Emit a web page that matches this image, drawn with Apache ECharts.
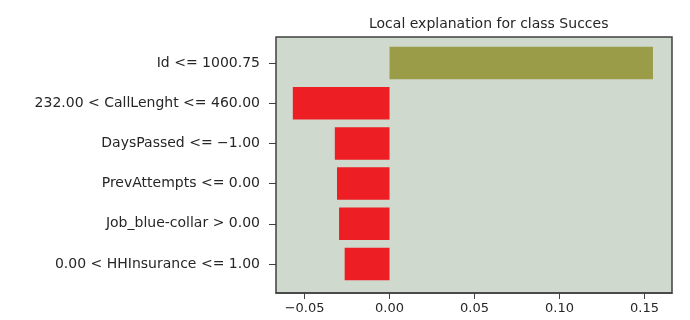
<!DOCTYPE html>
<html>
<head>
<meta charset="utf-8">
<script src="https://cdn.jsdelivr.net/npm/echarts@6/dist/echarts.min.js"></script>
<style>
  html, body { margin: 0; padding: 0; background: #ffffff; }
  #chart { width: 690px; height: 320px; }
</style>
</head>
<body>
<div id="chart"></div>
<script>
// Feature conditions (top to bottom) and their weights for the explained class
const categories = [
  'Id <= 1000.75',
  '232.00 < CallLenght <= 460.00',
  'DaysPassed <= \u22121.00',
  'PrevAttempts <= 0.00',
  'Job_blue-collar > 0.00',
  '0.00 < HHInsurance <= 1.00'
];
const weights = [0.155, -0.0569, -0.0322, -0.0309, -0.0297, -0.0264];
const xTicks = [-0.05, 0.00, 0.05, 0.10, 0.15];
const titleText = 'Local explanation for class Succes';

const FONT = 'DejaVu Sans';
const INK = '#262626';
const FRAME = '#404040';
const xMin = -0.0668, xMax = 0.1662;
const fmt = v => (v < 0 ? '\u2212' : '') + Math.abs(v).toFixed(2);

const chart = echarts.init(document.getElementById('chart'), null, { renderer: 'canvas' });
chart.setOption({
  animation: false,
  title: {
    text: titleText,
    left: 364, top: 12,
    textStyle: { fontFamily: FONT, fontSize: 14, fontWeight: 'normal', color: INK }
  },
  grid: [
    // plot frame with background and the x axis along its bottom edge
    { left: 276, right: 18, top: 37, bottom: 27, show: true, z: 0,
      backgroundColor: '#d0d9ce', borderColor: FRAME, borderWidth: 1.5 },
    // bar rows
    { left: 276, right: 18, top: 43, height: 241 }
  ],
  xAxis: [
    { type: 'value', gridIndex: 0, min: xMin, max: xMax, z: 5,
      axisLine: { show: true, onZero: false, lineStyle: { color: FRAME, width: 1.5 } },
      splitLine: { show: false },
      axisTick: { show: true, inside: false, length: 6, interval: 0,
        lineStyle: { color: FRAME, width: 1, opacity: 1 }, customValues: xTicks },
      axisLabel: { customValues: xTicks, formatter: fmt, margin: 9,
        fontFamily: FONT, fontSize: 13, color: INK } },
    { type: 'value', gridIndex: 1, min: xMin, max: xMax, show: false }
  ],
  yAxis: [
    { type: 'value', gridIndex: 0, show: false, min: 0, max: 1 },
    { type: 'category', gridIndex: 1, data: categories, inverse: true,
      axisLine: { show: false, onZero: false },
      splitLine: { show: false },
      axisTick: { show: true, alignWithLabel: true, length: 7, lineStyle: { color: FRAME, width: 1 } },
      axisLabel: { margin: 16, fontFamily: FONT, fontSize: 14, color: INK } }
  ],
  series: [{
    type: 'bar',
    xAxisIndex: 1, yAxisIndex: 1,
    data: weights,
    barCategoryGap: '19%',
    itemStyle: {
      color: p => (p.value >= 0 ? '#9a9c48' : '#ee1e25')
    }
  }]
});
</script>
</body>
</html>
